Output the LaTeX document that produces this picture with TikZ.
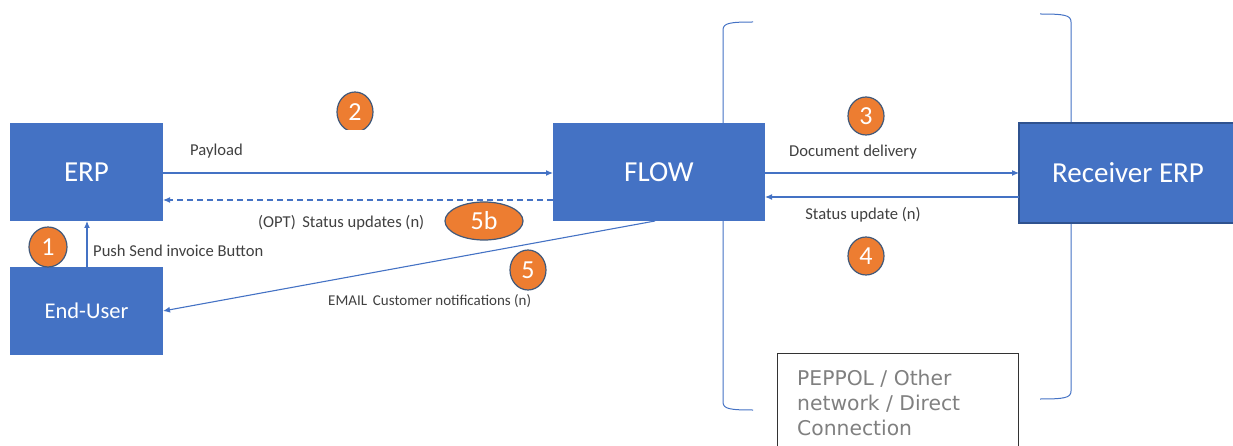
\documentclass[tikz,border=0pt]{standalone}
\usepackage{fontspec}
\setmainfont{Carlito}
\newfontfamily\peppolfont{DejaVu Sans}
\usetikzlibrary{arrows.meta,shapes.geometric}
\definecolor{boxblue}{HTML}{4472C4}
\definecolor{edgeblue}{HTML}{2F528F}
\definecolor{numorange}{HTML}{ED7D31}
\definecolor{numedge}{HTML}{41597A}
\definecolor{labelgray}{HTML}{404040}
\definecolor{peppolgray}{HTML}{808080}
\tikzset{
  bluebox/.style={rectangle, fill=boxblue, text=white, inner sep=0pt, font=\fontsize{29}{34}\selectfont},
  numcircle/.style={ellipse, fill=numorange, draw=numedge, line width=1.2pt, text=white, inner sep=0pt, font=\fontsize{26}{30}\selectfont},
  flowline/.style={draw=boxblue, line width=1.1pt},
  flowarrow/.style={flowline, -{Latex[length=7pt,width=6pt]}},
  lbl/.style={text=labelgray, font=\fontsize{16.6}{20}\selectfont, inner sep=0pt},
  bracketline/.style={draw=boxblue, line width=1pt}
}
\begin{document}
\begin{tikzpicture}[x=1pt,y=-1pt]
\useasboundingbox (0,0) rectangle (1233,446);
% network brackets
\draw[bracketline] (753,22) .. controls (730,22) and (723,23) .. (723,30) -- (723,402) .. controls (723,409) and (730,410) .. (753,410);
\draw[bracketline] (1040,14) .. controls (1064,14) and (1071,15) .. (1071,22) -- (1071,391) .. controls (1071,398) and (1064,399) .. (1040,399);
% boxes
\node[bluebox, minimum width=153pt, minimum height=98pt] (erp) at (86.5,172) {ERP};
\node[bluebox, minimum width=153pt, minimum height=88pt, font=\fontsize{22.5}{27}\selectfont] (user) at (86.5,311) {End-User};
\node[bluebox, minimum width=212pt, minimum height=98pt] (flow) at (659,172) {FLOW};
\node[bluebox, draw=edgeblue, line width=1.2pt, minimum width=218pt, minimum height=100pt] (recv) at (1128,173) {Receiver ERP};
% peppol box
\node[draw=black!80, line width=0.8pt, fill=white, minimum width=241pt, minimum height=100pt, inner sep=0pt] (peppol) at (897.5,403) {};
\node[anchor=north west, align=left, text=peppolgray, inner sep=0pt, font=\peppolfont\fontsize{20.3}{25}\selectfont] (peppoltext) at (797,370) {PEPPOL / Other\\network / Direct\\Connection};
% connectors
\coordinate (erpR1) at (163,173);
\coordinate (flowL1) at (553,173);
\coordinate (erpR2) at (163,200);
\coordinate (flowL2) at (553,200);
\draw[flowarrow] (erpR1) -- (flowL1);
\draw[flowarrow, dashed, dash pattern=on 6pt off 4pt] (flowL2) -- (erpR2);
\coordinate (flowR1) at (765,173);
\coordinate (recvL1) at (1019,173);
\coordinate (flowR2) at (765,197);
\coordinate (recvL2) at (1019,197);
\draw[flowarrow] (flowR1) -- (recvL1);
\draw[flowarrow] (recvL2) -- (flowR2);
\coordinate (userT) at (87,267);
\coordinate (erpB) at (87,221);
\draw[flowarrow] (userT) -- (erpB);
\coordinate (flowB) at (655,221);
\coordinate (userR) at (163,311);
\draw[flowarrow] (flowB) -- (userR);
% labels
\node[lbl, anchor=west] (lpayload) at (190,151) {Payload};
\node[lbl, anchor=west] (lopt) at (258,223) {(OPT)\, Status updates (n)};
\node[lbl, anchor=west] (lpush) at (93,251) {Push Send invoice Button};
\node[lbl, anchor=west, font=\fontsize{15}{18}\selectfont] (lemail) at (328,301) {EMAIL\, Customer notifications (n)};
\node[lbl] (ldoc) at (853,152) {Document delivery};
\node[lbl] (lstat) at (863,215) {Status update (n)};
% numbers
\begin{scope}
\clip (330,85) rectangle (380,129.5);
\node[numcircle, minimum width=36pt, minimum height=40pt] (n2) at (355,112) {2};
\end{scope}
\node[numcircle, minimum width=38pt, minimum height=40pt] (n1) at (48,247) {1};
\node[numcircle, minimum width=36pt, minimum height=38pt] (n3) at (866,116) {3};
\node[numcircle, minimum width=36pt, minimum height=38pt] (n4) at (866,256) {4};
\node[numcircle, minimum width=36pt, minimum height=40pt] (n5) at (528,270) {5};
\node[numcircle, minimum width=78pt, minimum height=38pt] (n5b) at (484,221) {5b};
\end{tikzpicture}
\end{document}
